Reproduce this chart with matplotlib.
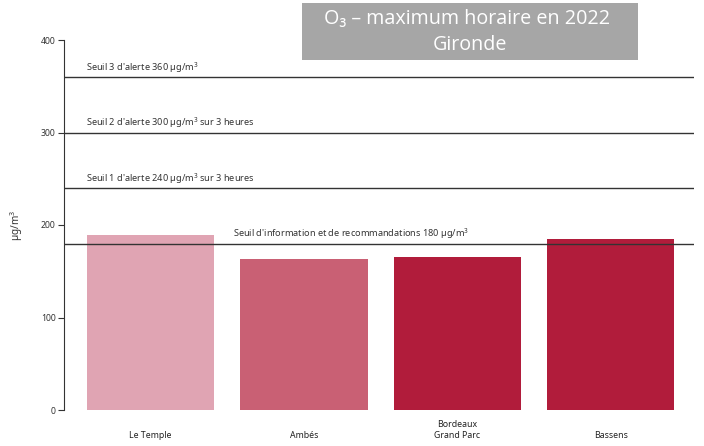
import matplotlib
matplotlib.use("Agg")
import matplotlib.pyplot as plt
from matplotlib.patches import Rectangle

stations = ["Le Temple", "Ambés", "Bordeaux\nGrand Parc", "Bassens"]
max_values = [189, 163, 165, 185]
bar_colors = ["#e0a4b3", "#c96074", "#b11c3b", "#b11c3b"]

threshold_values = [360, 300, 240, 180]
threshold_labels = [
    "Seuil 3 d'alerte 360 µg/m$^3$",
    "Seuil 2 d'alerte 300 µg/m$^3$ sur 3 heures",
    "Seuil 1 d'alerte 240 µg/m$^3$ sur 3 heures",
    "Seuil d'information et de recommandations 180 µg/m$^3$",
]
label_x = [-0.42, -0.42, -0.42, 0.54]

plt.rcParams["font.family"] = ["Noto Sans", "DejaVu Sans"]
plt.rcParams["mathtext.fontset"] = "custom"
plt.rcParams["mathtext.rm"] = "Noto Sans"

fig = plt.figure(figsize=(7.04, 4.46), dpi=100)
W, H = 704, 446
ax = fig.add_axes([64 / W, 1 - 410 / H, 630 / W, 370 / H])

x = list(range(len(stations)))
ax.bar(x, max_values, width=0.83, color=bar_colors, zorder=2)

for v, lab, lx in zip(threshold_values, threshold_labels, label_x):
    ax.axhline(v, color="#333333", lw=1.0, zorder=3)
    ax.text(lx, v + 2.5, lab, fontsize=6.6, color="#333333", va="bottom", ha="left")

ax.set_xlim(-0.564, 3.543)
ax.set_ylim(0, 400)
ax.set_yticks([0, 100, 200, 300, 400])
ax.tick_params(axis="y", labelsize=6.2, length=4, width=0.8, colors="#333333", pad=2)
ax.set_xticks(x)
ax.set_xticklabels(stations, fontsize=6.3, color="#222222", va="bottom")
ax.tick_params(axis="x", length=0, pad=21.5)
for s in ["top", "right", "bottom"]:
    ax.spines[s].set_visible(False)
ax.spines["left"].set_color("#333333")
ax.spines["left"].set_linewidth(0.8)

fig.text(17 / W, 1 - 225 / H, "µg/m$^3$", rotation=90, fontsize=7.2,
         color="#333333", ha="center", va="center")

# title banner
fig.patches.append(Rectangle((302 / W, 1 - 60 / H), 336 / W, 57 / H,
                             transform=fig.transFigure, facecolor="#a6a6a6",
                             edgecolor="none", zorder=5))
fig.text(467 / W, 1 - 19 / H, "O₃ – maximum horaire en 2022", fontsize=14.2,
         color="white", ha="center", va="center", zorder=6,
         family=["Open Sans", "DejaVu Sans"])
fig.text(470 / W, 1 - 45 / H, "Gironde", fontsize=14.2,
         color="white", ha="center", va="center", zorder=6,
         family=["Open Sans", "DejaVu Sans"])

fig.savefig("out.png", dpi=100)
